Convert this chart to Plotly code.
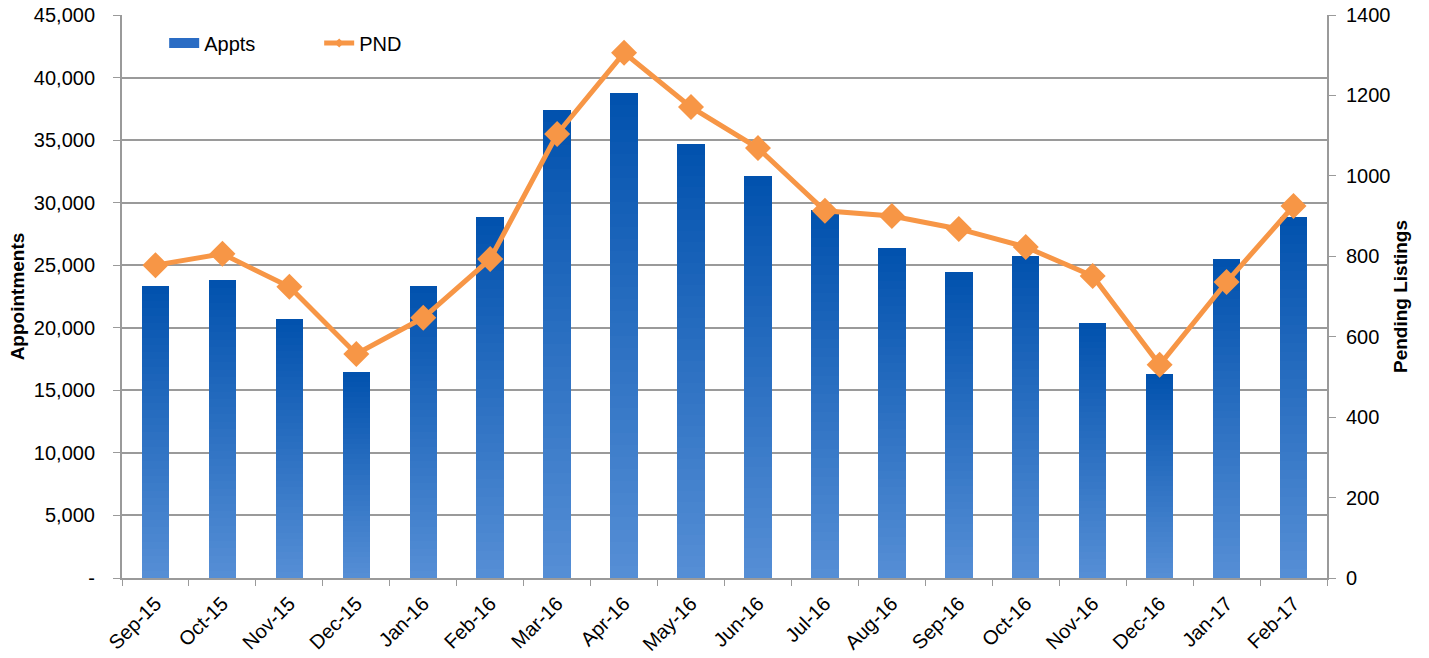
import plotly.graph_objects as go

# Data
months = ["Sep-15", "Oct-15", "Nov-15", "Dec-15", "Jan-16", "Feb-16", "Mar-16", "Apr-16",
          "May-16", "Jun-16", "Jul-16", "Aug-16", "Sep-16", "Oct-16", "Nov-16", "Dec-16",
          "Jan-17", "Feb-17"]
appts = [23300, 23800, 20700, 16500, 23350, 28850, 37400, 38750,
         34700, 32150, 29400, 26400, 24450, 25750, 20400, 16300,
         25500, 28850]
pnd = [778, 806, 724, 557, 647, 793, 1104, 1306,
       1171, 1069, 913, 900, 868, 823, 751, 530,
       736, 925]

left_ticks = [0, 5000, 10000, 15000, 20000, 25000, 30000, 35000, 40000, 45000]
left_labels = ["-", "5,000", "10,000", "15,000", "20,000", "25,000", "30,000",
               "35,000", "40,000", "45,000"]

FONT = "Liberation Sans, Arial, sans-serif"
GRAY = "#9a9a9a"
ORANGE = "#F79646"

fig = go.Figure()

# Bars with a vertical gradient: stack thin slices, light at bottom, dark at top
n_slices = 40
light = (85, 142, 213)
dark = (2, 82, 174)
for i in range(n_slices):
    t = i / (n_slices - 1)
    col = tuple(round(light[k] + (dark[k] - light[k]) * t) for k in range(3))
    fig.add_trace(
        go.Bar(
            x=months,
            y=[v / n_slices for v in appts],
            width=0.41,
            marker=dict(color="rgb(%d,%d,%d)" % col, line=dict(width=0)),
            name="Appts",
            showlegend=False,
            hoverinfo="skip",
        )
    )

# Pending listings line on the secondary axis
fig.add_trace(
    go.Scatter(
        x=months,
        y=pnd,
        mode="lines+markers",
        name="PND",
        yaxis="y2",
        showlegend=False,
        line=dict(color=ORANGE, width=5),
        marker=dict(symbol="diamond", size=20, color=ORANGE),
    )
)

# Legend-only entries (wide bar swatch, line with small marker)
fig.add_trace(
    go.Scatter(
        x=[None], y=[None], mode="lines", name="Appts",
        line=dict(color="#2a6cc4", width=10),
    )
)
fig.add_trace(
    go.Scatter(
        x=[None], y=[None], mode="lines+markers", name="PND", yaxis="y2",
        line=dict(color=ORANGE, width=5),
        marker=dict(symbol="diamond", size=7, color=ORANGE),
    )
)

fig.update_layout(
    barmode="stack",
    bargap=0,
    width=1429,
    height=658,
    margin=dict(l=122, r=102, t=15, b=80),
    plot_bgcolor="white",
    paper_bgcolor="white",
    font=dict(family=FONT, size=20, color="black"),
    showlegend=True,
    legend=dict(
        orientation="h",
        x=0.035,
        y=0.985,
        xanchor="left",
        yanchor="top",
        bgcolor="rgba(0,0,0,0)",
        font=dict(size=20),
        entrywidth=110,
        traceorder="normal",
    ),
    xaxis=dict(
        type="category",
        tickson="boundaries",
        ticks="outside",
        ticklen=6,
        tickcolor=GRAY,
        showline=True,
        linecolor=GRAY,
        linewidth=2,
        tickangle=-45,
        tickfont=dict(size=20),
        ticklabelstandoff=4,
        showgrid=False,
        automargin=False,
        range=[-0.5, len(months) - 0.5],
    ),
    yaxis=dict(
        range=[0, 45000],
        tickvals=left_ticks,
        ticktext=left_labels,
        ticks="outside",
        ticklen=7,
        tickcolor=GRAY,
        showline=True,
        linecolor=GRAY,
        linewidth=2,
        showgrid=True,
        gridcolor=GRAY,
        gridwidth=2,
        zeroline=False,
        automargin=False,
        tickfont=dict(size=20),
        ticklabelstandoff=14,
        title=dict(text="<b>Appointments</b>", font=dict(size=19), standoff=4),
    ),
    yaxis2=dict(
        overlaying="y",
        side="right",
        range=[0, 1400],
        dtick=200,
        ticks="outside",
        ticklen=7,
        tickcolor=GRAY,
        showline=True,
        linecolor=GRAY,
        linewidth=2,
        showgrid=False,
        zeroline=False,
        automargin=False,
        tickfont=dict(size=20),
        ticklabelstandoff=6,
        title=dict(text="<b>Pending Listings</b>", font=dict(size=19), standoff=4),
    ),
)

# drop the default page margin so the figure sits at the window's corner
fig.write_html(
    "out.html",
    config={"displayModeBar": False},
    post_script="document.body.style.margin = '0';",
)
